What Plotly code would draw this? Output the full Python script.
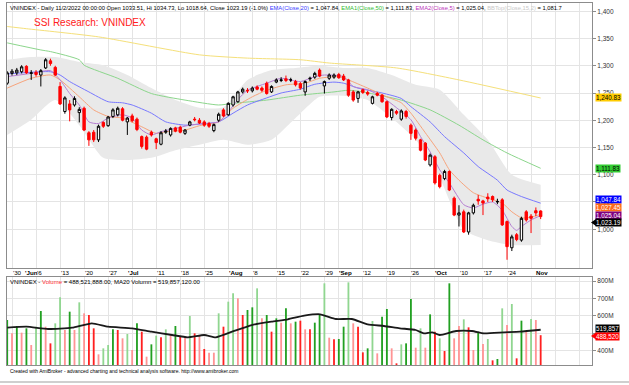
import plotly.graph_objects as go

# ---------------- DATA ----------------
# bar index 0 = 2022-05-27 ... 111 = 2022-11-02 (trading days, Sep 1-2 holiday)
opens = [1268,1286,1287,1289,1299,1286,1288,1283,1296,1309,
         1297,1262,1216,1230,1228,1214,1222,1177,1178,1164,
         1196,1190,1207,1210,1221,1197,1208,1202,1170,1169,
         1178,1166,1156,1178,1173,1186,1187,1176,1191,1202,
         1200,1197,1194,1181,1200,1219,1210,1228,1234,1252,
         1255,1254,1261,1259,1268,1252,1270,1273,1276,1274,
         1271,1267,1252,1276,1279,1292,1263,1277,1279,1284,
         1281,1274,1252,1240,1256,1251,1231,1249,1246,1234,
         1205,1216,1202,1216,1191,1182,1164,1158,1118,1133,
         1099,1093,1106,1057,1026,1032,995,1030,1055,1052,
         1059,1060,1050,1054,1014,966,990,980,1032,1024,
         1034,1033.51]
highs = [1290,1294,1296,1301,1301,1292,1292,1294,1314,1313,
         1300,1270,1244,1237,1244,1224,1225,1180,1182,1192,
         1198,1208,1222,1225,1224,1206,1212,1205,1172,1172,
         1181,1168,1180,1184,1187,1188,1190,1184,1199,1206,
         1204,1200,1197,1194,1214,1222,1233,1245,1254,1260,
         1259,1262,1264,1262,1271,1264,1277,1279,1282,1278,
         1274,1270,1273,1280,1289,1295,1273,1286,1286,1287,
         1285,1276,1255,1254,1258,1254,1245,1252,1248,1236,
         1222,1219,1220,1219,1194,1185,1166,1160,1139,1136,
         1102,1109,1108,1060,1044,1036,1032,1047,1063,1054,
         1066,1062,1056,1057,1016,990,993,1023,1035,1028,
         1040,1034.73]
lows = [1265,1282,1283,1286,1285,1274,1280,1262,1294,1300,
        1281,1228,1212,1198,1225,1196,1180,1153,1160,1160,
        1186,1188,1204,1207,1198,1173,1196,1180,1148,1145,
        1170,1147,1154,1175,1170,1178,1176,1173,1189,1198,
        1193,1188,1186,1178,1197,1206,1208,1225,1232,1249,
        1250,1251,1255,1252,1247,1250,1268,1270,1270,1270,
        1262,1256,1245,1272,1276,1279,1249,1274,1276,1276,
        1272,1243,1234,1232,1248,1245,1229,1244,1232,1204,
        1200,1210,1199,1203,1164,1163,1143,1125,1115,1082,
        1075,1090,1070,1024,1005,993,990,1027,1045,1026,
        1050,1050,1046,1006,944,960,978,977,1014,993,
        1024,1018.64]
closes = [1287,1290,1292,1298,1287,1287,1284,1291,1311,1304,
          1283,1230,1241,1219,1240,1220,1182,1164,1164,1189,
          1189,1206,1219,1222,1200,1204,1199,1183,1152,1147,
          1173,1159,1177,1180,1185,1180,1178,1182,1197,1201,
          1195,1191,1189,1192,1211,1208,1231,1243,1252,1257,
          1254,1259,1257,1255,1249,1262,1274,1274,1273,1274,
          1265,1259,1271,1277,1286,1281,1271,1283,1283,1278,
          1274,1246,1237,1252,1251,1248,1243,1246,1234,1206,
          1220,1213,1217,1207,1176,1167,1145,1127,1136,1085,
          1078,1106,1072,1026,1030,995,1030,1044,1052,1048,
          1056,1054,1051,1008,968,986,981,1020,1017,1020,
          1030,1023.19]

volume_m = [575.8,499.2,541.4,503.0,528.0,432.1,537.5,627.6,537.5,441.7,
            556.7,706.1,518.4,623.7,518.4,677.4,614.2,604.6,528.0,378.5,
            413.0,432.1,522.2,518.4,470.5,495.4,403.4,556.7,508.8,365.1,
            436.0,485.8,476.2,522.2,489.6,541.4,480.0,480.0,598.8,499.2,
            489.6,409.2,388.1,388.1,614.2,537.5,681.2,729.1,700.4,604.6,
            633.3,648.6,757.9,585.4,604.6,508.8,585.4,560.5,642.9,556.7,
            566.3,572.0,522.2,522.2,560.5,604.6,786.6,474.3,464.7,466.6,
            537.5,792.3,556.7,537.5,390.0,413.0,570.1,384.2,595.0,639.1,
            413.0,326.8,436.0,441.7,696.6,416.8,528.0,416.8,608.4,508.8,
            470.5,397.6,786.6,470.5,541.4,579.7,533.7,403.4,508.8,437.9,
            466.6,344.0,351.7,642.9,547.1,667.8,355.5,572.0,512.6,581.6,
            575.8,488.52]
# G = dark green, g = light green, R = dark red, r = light red
vol_col = ("GrGrGrgGrRggrGrgrRRrggGRrgrGRrGgRgrGRrgRrRrrgRggrRGGgrGRGrGrGRrRGGgrRGGgrRRGgrGGrRgGGrgrGRgRGrrgRrGrgRGgrgRGrgrR")

vma_idx = [0,4,8.5,13.5,17.6,21,26,30,34.3,37.6,41,43.4,46.8,50.9,55,58.4,61.8,65.1,68.4,
           71.7,75,78.4,81.7,85,86.7,88.4,90,93.4,96.7,99.2,103.4,106.7,111]
vma_val = [531.6,537.4,524.1,531.6,556.9,537.4,528.2,508.6,489.7,476.4,489.7,476.4,508.6,547.1,
           566.1,579.9,600.6,608.6,581.6,581.6,551.2,541.4,528.2,518.4,499.4,505.2,489.7,512.7,
           512.7,499.4,505.2,508.6,519.857]

ema20_idx = [0,9,11,13,17,21,24,26,30,33,37,40,44,47,50,54,57,61,64,68,70,73,78,82,84,88,91,95,98,102,104,107,111]
ema20_val = [1285,1289,1283,1271,1252,1234,1232,1228,1213,1197,1191,1193,1197,1213,1228,1241,1250,1257,
             1266,1270,1268,1259,1250,1240,1225,1197,1170,1140,1115,1090,1072,1060,1047.84]
ema10_idx = [0,5,9,11,15,18,21,24,28,31,33,37,40,44,47,51,54,58,62,65,69,71,75,79,82,84,87,90,92,94,97,100,103,105,107,109,111]
ema10_val = [1259,1277,1283,1274,1243,1219,1207,1204,1188,1176,1179,1182,1190,1197,1222,1243,1255,1265,
             1268,1277,1280,1274,1259,1243,1232,1213,1177,1140,1109,1090,1067,1057,1048,1032,1021,1022,1027.45]
ema5_idx = [0,5,9,11,13,15,17,19,21,24,26,28,30,32,35,38,41,44,46,48,50,54,57,61,64,66,70,72,75,78,81,84,86,88,90,92,
            95,97,99,101,103,105,106,107,109,111]
ema5_val = [1280,1286,1291,1274,1249,1228,1197,1194,1204,1210,1204,1182,1173,1179,1185,1191,1194,1197,1215,1238,
            1255,1268,1277,1271,1280,1283,1280,1262,1256,1243,1223,1201,1170,1142,1109,1085,1045,1039,1046,1050,
            1035,1005,998,1005,1017,1025.04]
ema50_idx = [0,7,9,15,16,23,30,37,44,47,54,61,68,71,74,79,82,88,94,99,104,111]
ema50_val = [1342,1329,1326,1311,1301,1277,1249,1237,1228,1231,1237,1246,1252,1255,1252,1243,1237,1219,1191,
             1164,1140,1111.83]
ema200_idx = [0,4,19,40,50,61,67,81,94,111]
ema200_val = [1372,1368,1353,1320,1314,1311,1305,1296,1274,1240.83]

bb_idx = [0,5,10,15,20,25,30,35,40,45,50,55,60,65,70,75,80,85,90,95,100,105,111]
bb_top = [1311,1316,1316,1307,1301,1283,1259,1237,1223,1224,1274,1292,1296,1300,1296,1296,1283,1265,1256,
          1210,1164,1100,1081.7]
bb_bot = [1173,1201,1237,1191,1131,1127,1131,1145,1155,1164,1155,1164,1204,1243,1245,1237,1204,1164,1094,
          999,980,971,971]

grid_idx = [1,6,11,16,21,26,31,36,41,46,51,56,61,66,69,74,79,84,89,94,99,104,109,114,119]
date_lbl_idx = [1,3.5,6,11,16,21,25,31,36,41,46,51,56,61,66,69,74,79,84,89,94,99,104,110]
date_lbl_txt = ["'30","'Jun","'6","'13","'20","'27","'Jul","'11","'18","'25","'Aug","'8","'15","'22","'29",
                "'Sep","'12","'19","'26","'Oct","'10","'17","'24","Nov"]
date_lbl_bold = [0,1,0,0,0,0,1,0,0,0,1,0,0,0,0,1,0,0,0,1,0,0,0,1]

price_ticks = [1000,1050,1100,1150,1200,1250,1300,1350,1400]
vol_ticks = [400,500,600,700,800]

# ---------------- LAYOUT HELPERS ----------------
W, H = 629, 385
X0_PX, X1_PX = 7, 592
BAR0_PX, BAR_DX = 7.2, 4.806
MAIN_TOP, MAIN_BOT = 3, 268
VOL_TOP, VOL_BOT = 277, 365
P_REF, P_REF_PX, P_PER_PX = 1250, 93, 1.835
V_REF, V_REF_PX, V_PER_PX = 800, 281, 5.747

def pyp(px):
    return (H - px) / H

def pxp(px):
    return px / W

xr = [(X0_PX - BAR0_PX) / BAR_DX, (X1_PX - BAR0_PX) / BAR_DX]
main_range = [P_REF - (MAIN_BOT - P_REF_PX) * P_PER_PX, P_REF + (P_REF_PX - MAIN_TOP) * P_PER_PX]
vol_range = [V_REF - (VOL_BOT - V_REF_PX) * V_PER_PX, V_REF + (V_REF_PX - VOL_TOP) * V_PER_PX]

FONT = "Arial, Liberation Sans, sans-serif"
GRID = "#e4e4e4"
FRAME = "#8c8c8c"

fig = go.Figure()

# Bollinger band fill (base layer)
fig.add_trace(go.Scatter(x=bb_idx, y=bb_bot, mode="lines", line=dict(width=0, shape="spline", smoothing=0.6),
                         hoverinfo="skip", xaxis="x", yaxis="y"))
fig.add_trace(go.Scatter(x=bb_idx, y=bb_top, mode="lines", line=dict(width=0, shape="spline", smoothing=0.6),
                         fill="tonexty", fillcolor="#e9e9e9", hoverinfo="skip", xaxis="x", yaxis="y"))

line_specs = [
    (ema200_idx, ema200_val, "#f5e07a"),
    (ema50_idx, ema50_val, "#8cd68c"),
    (ema20_idx, ema20_val, "#7878ff"),
    (ema10_idx, ema10_val, "#f7a47c"),
    (ema5_idx, ema5_val, "#b67fd2"),
]
for xi, yv, col in line_specs:
    fig.add_trace(go.Scatter(x=xi, y=yv, mode="lines", line=dict(color=col, width=1, shape="spline", smoothing=0.6),
                             hoverinfo="skip", xaxis="x", yaxis="y"))

# candles on an overlaying axis pair so they are drawn above the band and lines
idx = list(range(len(closes)))
fig.add_trace(go.Candlestick(
    x=idx, open=opens, high=highs, low=lows, close=closes,
    increasing=dict(line=dict(color="#000000", width=1), fillcolor="#ffffff"),
    decreasing=dict(line=dict(color="#ff0000", width=1), fillcolor="#ff0000"),
    whiskerwidth=0, xaxis="x3", yaxis="y3"))

cmap = {"G": "#22a022", "g": "#90d690", "R": "#ff2020", "r": "#ff9494"}
fig.add_trace(go.Bar(x=idx, y=volume_m, marker=dict(color=[cmap[c] for c in vol_col], line=dict(width=0)),
                     width=0.38, xaxis="x2", yaxis="y2", hoverinfo="skip"))
fig.add_trace(go.Scatter(x=vma_idx, y=vma_val, mode="lines", line=dict(color="#1a1a1a", width=1.8, shape="spline", smoothing=0.5),
                         xaxis="x2", yaxis="y2", hoverinfo="skip"))

annotations = []
for i, t, b in zip(date_lbl_idx, date_lbl_txt, date_lbl_bold):
    annotations.append(dict(x=i - 0.3, y=pyp(272.5), xref="x", yref="paper", text=("<b>%s</b>" % t) if b else t,
                            showarrow=False, xanchor="left", yanchor="middle",
                            font=dict(family=FONT, size=6.2, color="#000000")))

title_txt = ("VNINDEX - Daily 11/2/2022 00:00:00 Open 1033.51, Hi 1034.73, Lo 1018.64, Close 1023.19 (-1.0%) "
             "<span style='color:#3a3aff'>EMA(Close,20)</span> = 1,047.84, "
             "<span style='color:#33bb33'>EMA1(Close,50)</span> = 1,111.83, "
             "<span style='color:#bb33bb'>EMA2(Close,5)</span> = 1,025.04, "
             "<span style='color:#c8c8c8'>BBTop(Close,15,2)</span> = 1,081.7")
annotations.append(dict(x=pxp(8), y=pyp(8), xref="paper", yref="paper", text=title_txt, showarrow=False,
                        xanchor="left", yanchor="middle", font=dict(family=FONT, size=5.8, color="#000000")))
annotations.append(dict(x=pxp(32), y=pyp(22), xref="paper", yref="paper", text="SSI Research: VNINDEX",
                        showarrow=False, xanchor="left", yanchor="middle",
                        font=dict(family=FONT, size=10, color="#ff2020")))
annotations.append(dict(x=pxp(8), y=pyp(282), xref="paper", yref="paper",
                        text="VNINDEX - <span style='color:#ff3030'>Volume</span> = 488,521,888.00, MA20 Volumn = 519,857,120.00",
                        showarrow=False, xanchor="left", yanchor="middle", font=dict(family=FONT, size=6, color="#000000")))
annotations.append(dict(x=pxp(8), y=pyp(370.5), xref="paper", yref="paper",
                        text="Created with AmiBroker - advanced charting and technical analysis software. http://www.amibroker.com",
                        showarrow=False, xanchor="left", yanchor="middle", font=dict(family=FONT, size=5, color="#000000")))

def fmt(v):
    return "{:,.2f}".format(v)

boxes = [
    (97.5, fmt(ema200_val[-1]), "#ffcc00", "#000000"),
    (168, fmt(ema50_val[-1]), "#33cc33", "#000000"),
    (200, fmt(ema20_val[-1]), "#0000ff", "#ffffff"),
    (207.5, fmt(ema10_val[-1]), "#ff6a1a", "#ffffff"),
    (215, fmt(ema5_val[-1]), "#800080", "#ffffff"),
    (222.5, fmt(closes[-1]), "#000000", "#ffffff"),
    (328, "{:,.0f}".format(vma_val[-1] * 1000), "#000000", "#ffffff"),
    (336, "{:,.0f}".format(volume_m[-1] * 1000), "#ff0000", "#ffffff"),
]
for ypx, txt, bg, fc in boxes:
    annotations.append(dict(x=pxp(595), y=pyp(ypx), xref="paper", yref="paper", text=txt, showarrow=False,
                            xanchor="left", yanchor="middle", bgcolor=bg, borderpad=0,
                            font=dict(family=FONT, size=6.3, color=fc)))

shapes = []
for ypx, col in [(222.5, "#000000"), (336, "#ff0000")]:
    shapes.append(dict(type="path", xref="paper", yref="paper",
                       path="M %f,%f L %f,%f L %f,%f Z" % (pxp(591), pyp(ypx), pxp(596), pyp(ypx - 3.5),
                                                        pxp(596), pyp(ypx + 3.5)),
                       fillcolor=col, line=dict(width=0)))
shapes.append(dict(type="rect", xref="paper", yref="paper", x0=0, x1=1, y0=pyp(383), y1=pyp(381),
                   fillcolor="#cfcfcf", line=dict(width=0)))

axis_common = dict(showgrid=True, gridcolor=GRID, gridwidth=1, zeroline=False, showline=True,
                   linecolor=FRAME, linewidth=1, mirror=True)

fig.update_layout(
    width=W, height=H, margin=dict(l=0, r=0, t=0, b=0),
    paper_bgcolor="#ffffff", plot_bgcolor="#ffffff", showlegend=False,
    xaxis=dict(domain=[pxp(X0_PX), pxp(X1_PX)], range=xr, tickvals=grid_idx, showticklabels=False, ticks="",
               rangeslider=dict(visible=False), anchor="y", **axis_common),
    yaxis=dict(domain=[pyp(MAIN_BOT), pyp(MAIN_TOP)], range=main_range, side="right", anchor="x",
               tickvals=price_ticks, ticktext=["{:,}".format(v) for v in price_ticks],
               ticks="outside", ticklen=3, tickcolor=FRAME,
               tickfont=dict(family=FONT, size=6.5, color="#333333"), **axis_common),
    xaxis3=dict(overlaying="x", matches="x", range=xr, visible=False, rangeslider=dict(visible=False), anchor="y3"),
    yaxis3=dict(overlaying="y", range=main_range, visible=False, anchor="x3"),
    xaxis2=dict(domain=[pxp(X0_PX), pxp(X1_PX)], range=xr, tickvals=grid_idx, showticklabels=False, ticks="",
                matches="x", anchor="y2", **axis_common),
    yaxis2=dict(domain=[pyp(VOL_BOT), pyp(VOL_TOP)], range=vol_range, side="right", anchor="x2",
                tickvals=vol_ticks, ticktext=["%dM" % v for v in vol_ticks],
                ticks="outside", ticklen=3, tickcolor=FRAME,
                tickfont=dict(family=FONT, size=6.5, color="#333333"), **axis_common),
    annotations=annotations, shapes=shapes,
)

fig.write_html("out.html", config={"displayModeBar": False, "staticPlot": True},
               post_script="document.body.style.margin='0px';document.body.style.overflow='hidden';")
